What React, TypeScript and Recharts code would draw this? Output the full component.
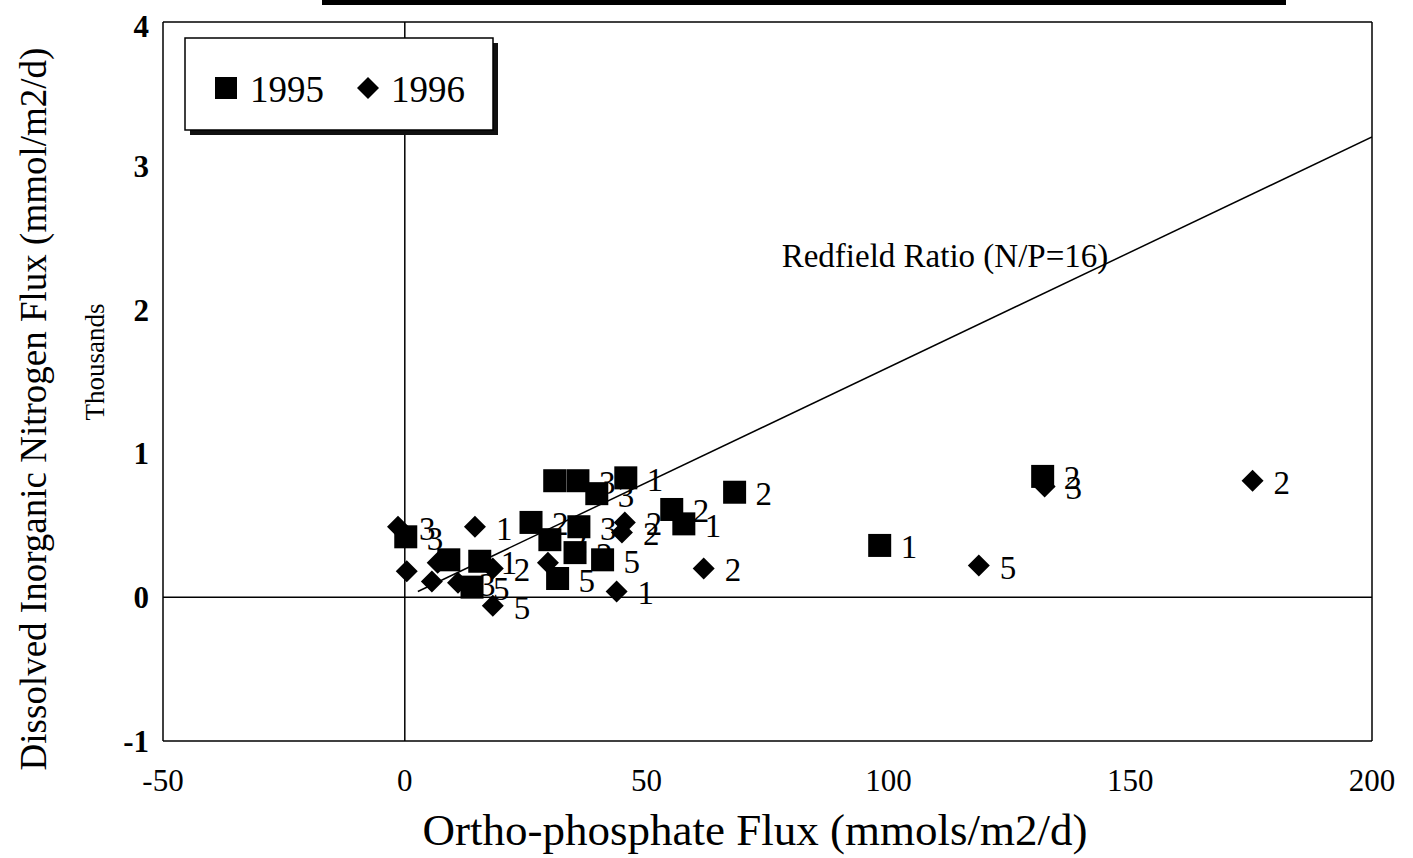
import React from 'react';
import { ScatterChart, Scatter, XAxis, YAxis, ReferenceLine } from 'recharts';

// Ortho-phosphate flux (mmols/m2/d) and DIN flux (thousands mmol/m2/d)
const x1995 = [0.2, 9.1, 15.5, 13.9, 26.1, 31.0, 35.8, 39.7, 45.7, 30.0, 36.0, 35.2, 31.6, 40.9, 55.2, 57.7, 68.2, 98.2, 131.9];
const y1995 = [0.42, 0.26, 0.25, 0.07, 0.52, 0.81, 0.81, 0.72, 0.83, 0.40, 0.49, 0.31, 0.13, 0.26, 0.61, 0.51, 0.73, 0.36, 0.84];
const labels1995 = ['3', '', '1', '5', '2', '', '3', '3', '1', '2', '3', '2', '5', '5', '2', '1', '2', '1', '2'];

const x1996 = [-1.4, 0.4, 6.8, 5.6, 11.0, 14.5, 18.2, 18.2, 29.6, 45.5, 44.9, 43.8, 61.8, 118.7, 132.3, 175.3];
const y1996 = [0.49, 0.18, 0.24, 0.11, 0.10, 0.49, 0.20, -0.06, 0.24, 0.52, 0.45, 0.04, 0.20, 0.22, 0.77, 0.81];
const labels1996 = ['3', '', '', '', '3', '1', '2', '5', '', '2', '2', '1', '2', '5', '3', '2'];

const redfieldX = [2.7, 200];
const redfieldY = [0.04, 3.2];

const xTicks = [-50, 0, 50, 100, 150, 200];
const yTicks = [-1, 0, 1, 2, 3, 4];

const data1995 = x1995.map((x, i) => ({ x, y: y1995[i], label: labels1995[i] }));
const data1996 = x1996.map((x, i) => ({ x, y: y1996[i], label: labels1996[i] }));
const redfield = redfieldX.map((x, i) => ({ x, y: redfieldY[i] }));

const FONT = '"Liberation Serif", "Times New Roman", serif';
const LABEL_SIZE = 33;
const LABEL_OFFSET = 21;

const SquareShape = (props: any) => {
  const { cx, cy, payload } = props;
  if (cx == null || cy == null) return <g />;
  const s = 23;
  return (
    <g>
      <rect x={cx - s / 2} y={cy - s / 2} width={s} height={s} fill="#000" />
      {payload.label ? (
        <text x={cx + LABEL_OFFSET} y={cy + 2} fontFamily={FONT} fontSize={LABEL_SIZE} dominantBaseline="central" fill="#000">
          {payload.label}
        </text>
      ) : null}
    </g>
  );
};

const DiamondShape = (props: any) => {
  const { cx, cy, payload } = props;
  if (cx == null || cy == null) return <g />;
  const r = 11;
  return (
    <g>
      <polygon points={`${cx},${cy - r} ${cx + r},${cy} ${cx},${cy + r} ${cx - r},${cy}`} fill="#000" />
      {payload.label ? (
        <text x={cx + LABEL_OFFSET} y={cy + 2} fontFamily={FONT} fontSize={LABEL_SIZE} dominantBaseline="central" fill="#000">
          {payload.label}
        </text>
      ) : null}
    </g>
  );
};

const NoShape = () => <g />;

export default function App() {
  return (
    <div style={{ position: 'relative', width: 1405, height: 850, fontFamily: FONT }}>
      <div style={{ position: 'fixed', left: 322, top: 0, width: 964, height: 5, background: '#000', zIndex: 5 }} />
      <ScatterChart width={1405} height={850} margin={{ top: 14, right: 41, left: 95, bottom: 57 }}>
        <XAxis
          type="number"
          dataKey="x"
          domain={[-50, 200]}
          ticks={xTicks}
          height={60}
          tickLine={false}
          tickSize={6}
          tickMargin={22}
          axisLine={{ stroke: '#000', strokeWidth: 1.5 }}
          tick={{ fill: '#000', fontSize: 31, fontFamily: FONT }}
          allowDataOverflow
        />
        <YAxis
          type="number"
          dataKey="y"
          domain={[-1, 4]}
          ticks={yTicks}
          width={60}
          tickLine={false}
          tickSize={6}
          tickMargin={8}
          axisLine={{ stroke: '#000', strokeWidth: 1.5 }}
          tick={{ fill: '#000', fontSize: 31, fontFamily: FONT, fontWeight: 'bold' }}
          allowDataOverflow
        />
        <ReferenceLine y={4} stroke="#000" strokeWidth={1.5} />
        <ReferenceLine x={200} stroke="#000" strokeWidth={1.5} />
        <ReferenceLine x={0} stroke="#000" strokeWidth={1.5} />
        <ReferenceLine y={0} stroke="#000" strokeWidth={1.5} />
        <Scatter
          name="Redfield"
          data={redfield}
          line={{ stroke: '#000', strokeWidth: 1.5 }}
          shape={NoShape}
          isAnimationActive={false}
        />
        <Scatter name="1995" data={data1995} shape={SquareShape} isAnimationActive={false} />
        <Scatter name="1996" data={data1996} shape={DiamondShape} isAnimationActive={false} />
      </ScatterChart>
      <svg
        width={1413}
        height={858}
        style={{ position: 'absolute', left: -8, top: -8, pointerEvents: 'none', overflow: 'visible' }}
      >
        <text x={945} y={256} fontFamily={FONT} fontSize={33} textAnchor="middle" dominantBaseline="central" fill="#000">
          Redfield Ratio (N/P=16)
        </text>
        {/* legend */}
        <rect x={190} y={43} width={308} height={92} fill="#111" />
        <rect x={185} y={38} width={308} height={92} fill="#fff" stroke="#000" strokeWidth={1.5} />
        <rect x={215} y={77} width={22} height={22} fill="#000" />
        <text x={250} y={89} fontFamily={FONT} fontSize={37} dominantBaseline="central" fill="#000">1995</text>
        <polygon points="368,77 379,88 368,99 357,88" fill="#000" />
        <text x={391} y={89} fontFamily={FONT} fontSize={37} dominantBaseline="central" fill="#000">1996</text>
        {/* axis titles */}
        <text x={755} y={830} fontFamily={FONT} fontSize={45} textAnchor="middle" dominantBaseline="central" fill="#000">
          Ortho-phosphate Flux (mmols/m2/d)
        </text>
        <text
          transform="translate(33,409) rotate(-90)"
          fontFamily={FONT}
          fontSize={37}
          textAnchor="middle"
          dominantBaseline="central"
          fill="#000"
        >
          Dissolved Inorganic Nitrogen Flux (mmol/m2/d)
        </text>
        <text
          transform="translate(95,362) rotate(-90)"
          fontFamily={FONT}
          fontSize={27}
          textAnchor="middle"
          dominantBaseline="central"
          fill="#000"
        >
          Thousands
        </text>
      </svg>
    </div>
  );
}
